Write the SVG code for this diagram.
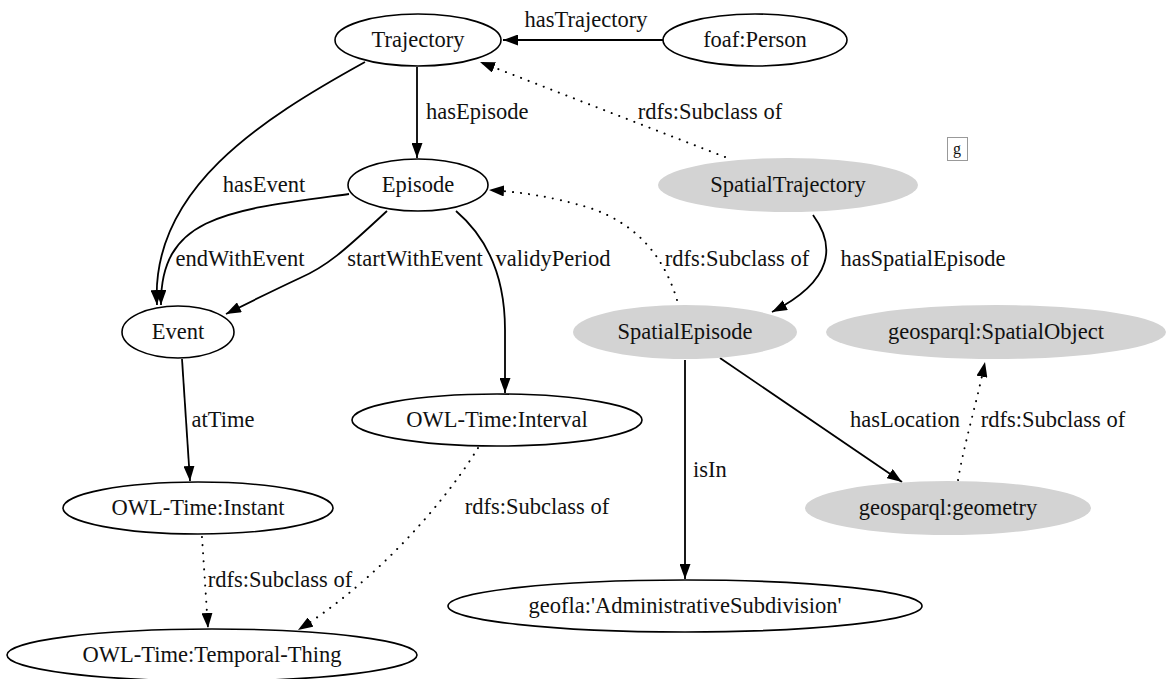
<svg xmlns="http://www.w3.org/2000/svg" width="1168" height="679" viewBox="0 0 1168 679">
<defs>
<style>
.n{fill:#fff;stroke:#000;stroke-width:1.6}
.g{fill:#d3d3d3;stroke:none}
text{font-family:"Liberation Serif","Times New Roman",serif;font-size:22.5px;fill:#111}
.c{text-anchor:middle}
.e{fill:none;stroke:#000;stroke-width:1.8}
.d{fill:none;stroke:#000;stroke-width:2;stroke-dasharray:0.1 8;stroke-linecap:round}
</style>
<marker id="a" viewBox="0 0 15 11" refX="15" refY="5.5" markerWidth="15" markerHeight="11" markerUnits="userSpaceOnUse" orient="auto"><path d="M0,0 L15,5.5 L0,11 z" fill="#000"/></marker>
</defs>
<rect width="1168" height="679" fill="#fff"/>
<g id="connectors">
<path class="e" d="M663,40 L503,40" marker-end="url(#a)"/>
<text class="c" x="586" y="27">hasTrajectory</text>
<path class="e" d="M417,67 L417,158" marker-end="url(#a)"/>
<text x="426" y="119">hasEpisode</text>
<path class="d" d="M725,157 L480,62" marker-end="url(#a)"/>
<text class="c" x="710" y="119">rdfs:Subclass of</text>
<path class="e" d="M365,62 C260,120 150,190 157,305" marker-end="url(#a)"/>
<text class="c" x="264" y="192">hasEvent</text>
<path class="e" d="M349,194 C230,210 160,215 161,305" marker-end="url(#a)"/>
<text class="c" x="240" y="266">endWithEvent</text>
<path class="e" d="M387,211 C350,245 330,265 300,278 C270,292 250,302 226,314" marker-end="url(#a)"/>
<text class="c" x="415" y="266">startWithEvent</text>
<path class="e" d="M456,211 C490,240 505,280 505,330 L505,393" marker-end="url(#a)"/>
<text class="c" x="553" y="266">validyPeriod</text>
<path class="d" d="M677,300 C665,260 640,225 590,208 C550,196 520,192 489,190" marker-end="url(#a)"/>
<text class="c" x="737" y="266">rdfs:Subclass of</text>
<path class="e" d="M813,215 C835,245 835,280 772,312" marker-end="url(#a)"/>
<text class="c" x="923" y="266">hasSpatialEpisode</text>
<path class="e" d="M182,359 L190,481" marker-end="url(#a)"/>
<text class="c" x="223" y="427">atTime</text>
<path class="e" d="M720,358 L902,482" marker-end="url(#a)"/>
<text class="c" x="905" y="427">hasLocation</text>
<path class="d" d="M958,480 C965,440 975,410 985,362" marker-end="url(#a)"/>
<text class="c" x="1053" y="427">rdfs:Subclass of</text>
<path class="e" d="M685,360 L685,579" marker-end="url(#a)"/>
<text x="693" y="477">isIn</text>
<path class="d" d="M478,448 C440,510 370,585 298,630" marker-end="url(#a)"/>
<text class="c" x="537" y="514">rdfs:Subclass of</text>
<path class="d" d="M202,537 L208,628" marker-end="url(#a)"/>
<text class="c" x="280" y="587">rdfs:Subclass of</text>
</g>
<g id="Trajectory"><ellipse class="n" cx="418" cy="40" rx="83" ry="26"/><text class="c" x="418" y="47">Trajectory</text></g>
<g id="foafPerson"><ellipse class="n" cx="755" cy="40" rx="92" ry="26"/><text class="c" x="755" y="47">foaf:Person</text></g>
<g id="Episode"><ellipse class="n" cx="418" cy="185" rx="70" ry="26"/><text class="c" x="418" y="192">Episode</text></g>
<g id="SpatialTrajectory"><ellipse class="g" cx="788" cy="185" rx="130" ry="27"/><text class="c" x="788" y="192">SpatialTrajectory</text></g>
<g id="Event"><ellipse class="n" cx="178" cy="332" rx="56" ry="26"/><text class="c" x="178" y="339">Event</text></g>
<g id="SpatialEpisode"><ellipse class="g" cx="685" cy="332" rx="112" ry="27"/><text class="c" x="685" y="339">SpatialEpisode</text></g>
<g id="SpatialObject"><ellipse class="g" cx="996" cy="332" rx="170" ry="27"/><text class="c" x="996" y="339">geosparql:SpatialObject</text></g>
<g id="Interval"><ellipse class="n" cx="497" cy="420" rx="145" ry="26"/><text class="c" x="497" y="427">OWL-Time:Interval</text></g>
<g id="Instant"><ellipse class="n" cx="198" cy="508" rx="135" ry="26"/><text class="c" x="198" y="515">OWL-Time:Instant</text></g>
<g id="geometry"><ellipse class="g" cx="948" cy="508" rx="143" ry="27"/><text class="c" x="948" y="515">geosparql:geometry</text></g>
<g id="geofla"><ellipse class="n" cx="685" cy="606" rx="237" ry="26"/><text class="c" x="685" y="613">geofla:'AdministrativeSubdivision'</text></g>
<g id="TemporalThing"><ellipse class="n" cx="212" cy="655" rx="205" ry="26"/><text class="c" x="212" y="662">OWL-Time:Temporal-Thing</text></g>
<g id="gbox"><rect x="947.5" y="137.5" width="20" height="23" fill="#fff" stroke="#999" stroke-width="1"/><text class="c" x="957" y="154" style="font-size:16px">g</text></g>
</svg>
